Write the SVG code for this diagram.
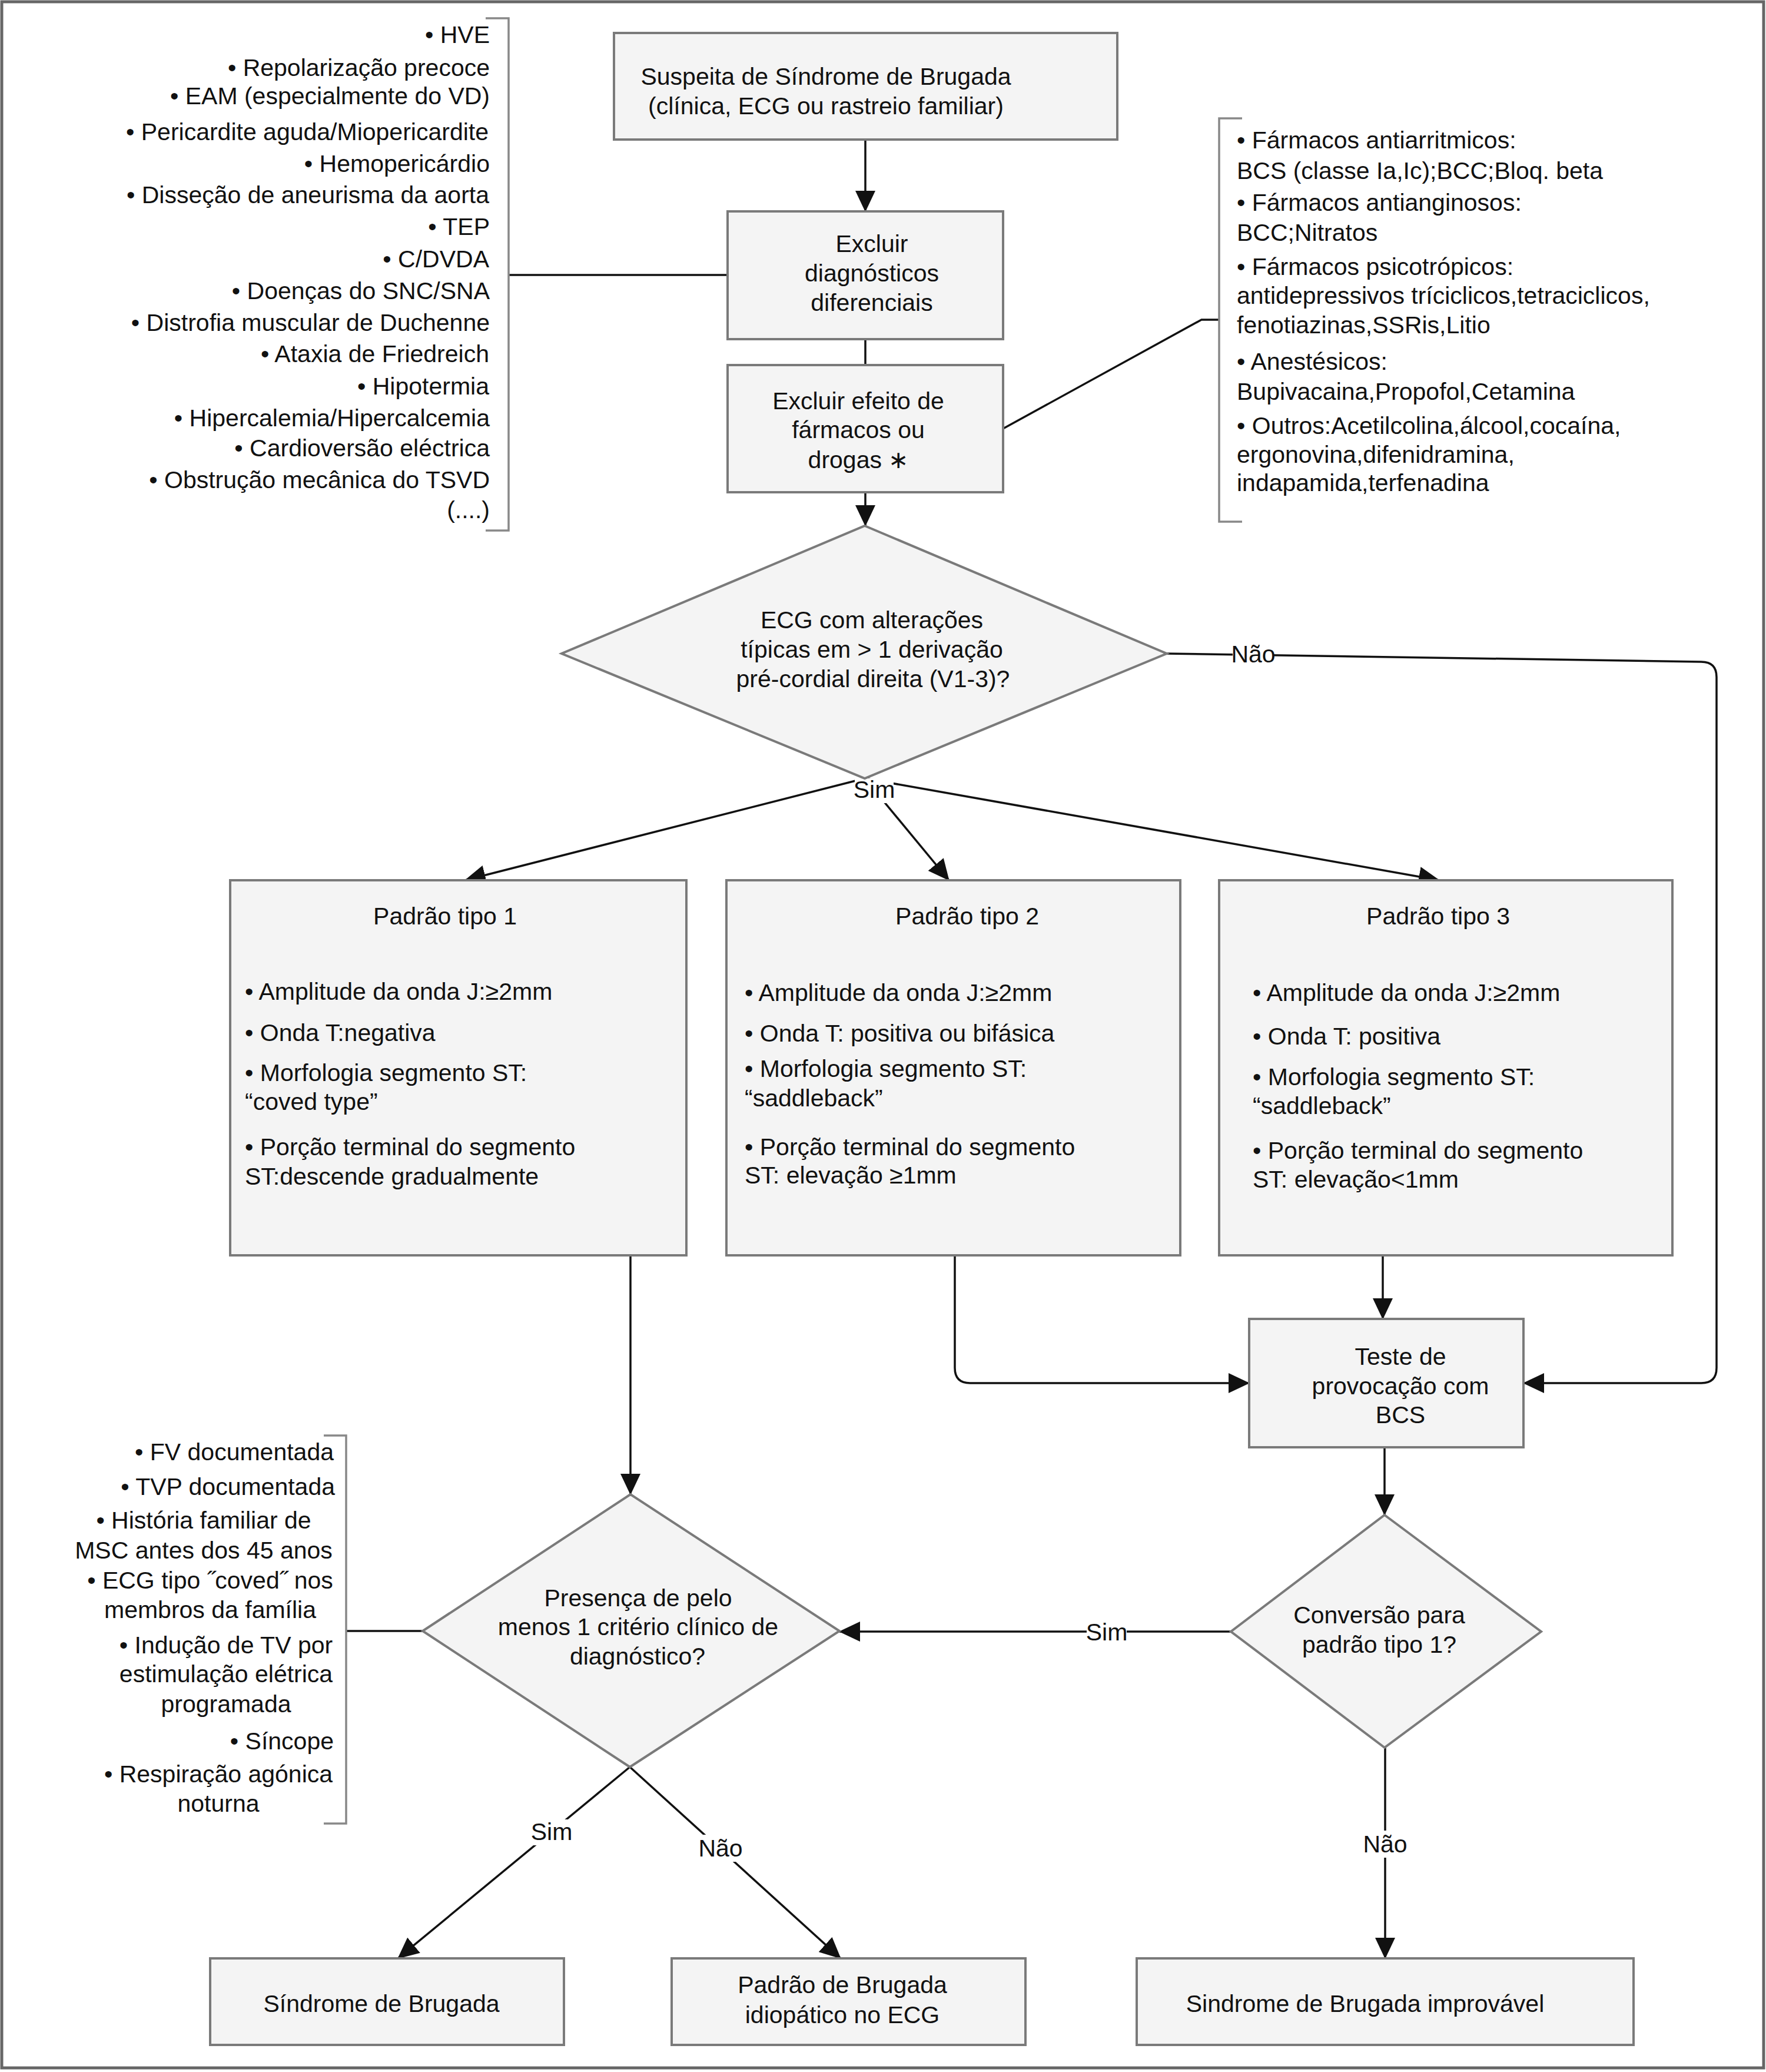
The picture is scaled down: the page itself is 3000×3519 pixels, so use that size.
<svg xmlns="http://www.w3.org/2000/svg" width="3000" height="3519" viewBox="0 0 3000 3519">
<defs>
<style>
.box{fill:#f4f4f4;stroke:#7a7a7a;stroke-width:4}
.conn{fill:none;stroke:#111;stroke-width:3.5}
.br{fill:none;stroke:#888;stroke-width:3.5}
text{font-family:"Liberation Sans",Arial,sans-serif;font-size:41px;fill:#111}
.m{text-anchor:middle}
.e{text-anchor:end}
.bg{fill:#fff}
</style>
<marker id="arr" viewBox="0 0 36 34" refX="35" refY="17" markerWidth="36" markerHeight="34" markerUnits="userSpaceOnUse" orient="auto">
<path d="M0,0 L36,17 L0,34 z" fill="#111"/>
</marker>
</defs>
<rect x="0" y="0" width="3000" height="3519" fill="#fff"/>
<rect x="3" y="3" width="2993" height="3509" fill="none" stroke="#666" stroke-width="5"/>

<g id="connectors">
<line class="conn" x1="1470" y1="237" x2="1470" y2="359" marker-end="url(#arr)"/>
<line class="conn" x1="1470" y1="576" x2="1470" y2="620"/>
<line class="conn" x1="1470" y1="836" x2="1470" y2="893" marker-end="url(#arr)"/>
<line class="conn" x1="864" y1="467" x2="1236" y2="467"/>
<polyline class="conn" points="1704,728 2041,543 2071,543"/>
<line class="conn" x1="1469" y1="1322" x2="790" y2="1495" marker-end="url(#arr)"/>
<line class="conn" x1="1469" y1="1322" x2="1612" y2="1495" marker-end="url(#arr)"/>
<line class="conn" x1="1469" y1="1322" x2="2445" y2="1495" marker-end="url(#arr)"/>
<path class="conn" d="M1982,1110 L2890,1124 Q2916,1124 2916,1150 L2916,2323 Q2916,2349 2890,2349 L2588,2349" marker-end="url(#arr)"/>
<path class="conn" d="M1622,2132 L1622,2323 Q1622,2349 1648,2349 L2122,2349" marker-end="url(#arr)"/>
<line class="conn" x1="2349" y1="2132" x2="2349" y2="2240" marker-end="url(#arr)"/>
<line class="conn" x1="1071" y1="2132" x2="1071" y2="2538" marker-end="url(#arr)"/>
<line class="conn" x1="2352" y1="2458" x2="2352" y2="2573" marker-end="url(#arr)"/>
<line class="conn" x1="2091" y1="2771" x2="1426" y2="2771" marker-end="url(#arr)"/>
<line class="conn" x1="2353" y1="2968" x2="2353" y2="3326" marker-end="url(#arr)"/>
<line class="conn" x1="1070" y1="3001" x2="676" y2="3326" marker-end="url(#arr)"/>
<line class="conn" x1="1070" y1="3001" x2="1428" y2="3326" marker-end="url(#arr)"/>
<line class="conn" x1="588" y1="2770" x2="718" y2="2770"/>
<rect class="bg" x="2094" y="1090" width="70" height="45"/>
<text class="m" x="2129" y="1125">Não</text>
<rect class="bg" x="1452" y="1322" width="66" height="42"/>
<text class="m" x="1485" y="1355">Sim</text>
<rect class="bg" x="1846" y="2750" width="68" height="44"/>
<text class="m" x="1880" y="2786">Sim</text>
<rect class="bg" x="903" y="3090" width="68" height="44"/>
<text class="m" x="937" y="3125">Sim</text>
<rect class="bg" x="1189" y="3116" width="70" height="46"/>
<text class="m" x="1224" y="3153">Não</text>
<rect class="bg" x="2318" y="3109" width="70" height="46"/>
<text class="m" x="2353" y="3146">Não</text>
</g>

<g id="diff-list">
<path class="br" d="M825,31 H864 V901 H825"/>
<text class="e" x="832" y="73">• HVE</text>
<text class="e" x="832" y="129">• Repolarização precoce</text>
<text class="e" x="832" y="177">• EAM (especialmente do VD)</text>
<text class="e" x="830" y="238">• Pericardite aguda/Miopericardite</text>
<text class="e" x="832" y="292">• Hemopericárdio</text>
<text class="e" x="831" y="345">• Disseção de aneurisma da aorta</text>
<text class="e" x="832" y="399">• TEP</text>
<text class="e" x="831" y="454">• C/DVDA</text>
<text class="e" x="832" y="508">• Doenças do SNC/SNA</text>
<text class="e" x="832" y="562">• Distrofia muscular de Duchenne</text>
<text class="e" x="831" y="615">• Ataxia de Friedreich</text>
<text class="e" x="831" y="670">• Hipotermia</text>
<text class="e" x="832" y="724">• Hipercalemia/Hipercalcemia</text>
<text class="e" x="832" y="775">• Cardioversão eléctrica</text>
<text class="e" x="832" y="829">• Obstrução mecânica do TSVD</text>
<text class="e" x="832" y="880">(....)</text>
</g>

<g id="drug-list">
<path class="br" d="M2110,201 H2071 V886 H2110"/>
<text x="2101" y="252">• Fármacos antiarritmicos:</text>
<text x="2101" y="304">BCS (classe Ia,Ic);BCC;Bloq. beta</text>
<text x="2101" y="358">• Fármacos antianginosos:</text>
<text x="2101" y="409">BCC;Nitratos</text>
<text x="2101" y="467">• Fármacos psicotrópicos:</text>
<text x="2101" y="516">antidepressivos tríciclicos,tetraciclicos,</text>
<text x="2101" y="566">fenotiazinas,SSRis,Litio</text>
<text x="2101" y="628">• Anestésicos:</text>
<text x="2101" y="679">Bupivacaina,Propofol,Cetamina</text>
<text x="2101" y="737">• Outros:Acetilcolina,álcool,cocaína,</text>
<text x="2101" y="786">ergonovina,difenidramina,</text>
<text x="2101" y="834">indapamida,terfenadina</text>
</g>

<g id="suspeita">
<rect class="box" x="1043" y="56" width="855" height="181"/>
<text class="m" x="1403" y="144">Suspeita de Síndrome de Brugada</text>
<text class="m" x="1403" y="194">(clínica, ECG ou rastreio familiar)</text>
</g>

<g id="excluir-diag">
<rect class="box" x="1236" y="359" width="468" height="217"/>
<text class="m" x="1481" y="428">Excluir</text>
<text class="m" x="1481" y="478">diagnósticos</text>
<text class="m" x="1481" y="528">diferenciais</text>
</g>

<g id="excluir-farm">
<rect class="box" x="1236" y="620" width="468" height="216"/>
<text class="m" x="1458" y="695">Excluir efeito de</text>
<text class="m" x="1458" y="744">fármacos ou</text>
<text class="m" x="1458" y="795">drogas ∗</text>
</g>

<g id="ecg-decision">
<polygon class="box" points="1469,893 1982,1110 1469,1322 954,1110"/>
<text class="m" x="1481" y="1067">ECG com alterações</text>
<text class="m" x="1481" y="1117">típicas em &gt; 1 derivação</text>
<text class="m" x="1483" y="1167">pré-cordial direita (V1-3)?</text>
</g>

<g id="padrao1">
<rect class="box" x="391" y="1495" width="775" height="637"/>
<text class="m" x="756" y="1570">Padrão tipo 1</text>
<text x="416" y="1698">• Amplitude da onda J:≥2mm</text>
<text x="416" y="1768">• Onda T:negativa</text>
<text x="416" y="1836">• Morfologia segmento ST:</text>
<text x="416" y="1885">“coved type”</text>
<text x="416" y="1962">• Porção terminal do segmento</text>
<text x="416" y="2012">ST:descende gradualmente</text>
</g>

<g id="padrao2">
<rect class="box" x="1234" y="1495" width="771" height="637"/>
<text class="m" x="1643" y="1570">Padrão tipo 2</text>
<text x="1265" y="1700">• Amplitude da onda J:≥2mm</text>
<text x="1265" y="1769">• Onda T: positiva ou bifásica</text>
<text x="1265" y="1829">• Morfologia segmento ST:</text>
<text x="1265" y="1879">“saddleback”</text>
<text x="1265" y="1962">• Porção terminal do segmento</text>
<text x="1265" y="2010">ST: elevação ≥1mm</text>
</g>

<g id="padrao3">
<rect class="box" x="2071" y="1495" width="770" height="637"/>
<text class="m" x="2443" y="1570">Padrão tipo 3</text>
<text x="2128" y="1700">• Amplitude da onda J:≥2mm</text>
<text x="2128" y="1774">• Onda T: positiva</text>
<text x="2128" y="1843">• Morfologia segmento ST:</text>
<text x="2128" y="1892">“saddleback”</text>
<text x="2128" y="1968">• Porção terminal do segmento</text>
<text x="2128" y="2017">ST: elevação&lt;1mm</text>
</g>

<g id="teste">
<rect class="box" x="2122" y="2240" width="466" height="218"/>
<text class="m" x="2379" y="2318">Teste de</text>
<text class="m" x="2379" y="2368">provocação com</text>
<text class="m" x="2379" y="2417">BCS</text>
</g>

<g id="conversao">
<polygon class="box" points="2352,2573 2618,2771 2352,2968 2091,2771"/>
<text class="m" x="2343" y="2757">Conversão para</text>
<text class="m" x="2343" y="2807">padrão tipo 1?</text>
</g>

<g id="criterio">
<polygon class="box" points="1071,2538 1426,2770 1070,3001 718,2770"/>
<text class="m" x="1084" y="2728">Presença de pelo</text>
<text class="m" x="1084" y="2777">menos 1 critério clínico de</text>
<text class="m" x="1083" y="2827">diagnóstico?</text>
</g>

<g id="criterios-list">
<path class="br" d="M550,2438 H588 V3097 H550"/>
<text class="e" x="567" y="2480">• FV documentada</text>
<text class="e" x="569" y="2539">• TVP documentada</text>
<text class="m" x="346" y="2596">• História familiar de</text>
<text class="m" x="346" y="2647">MSC antes dos 45 anos</text>
<text class="m" x="357" y="2698">• ECG tipo ˝coved˝ nos</text>
<text class="m" x="357" y="2748">membros da família</text>
<text class="m" x="384" y="2808">• Indução de TV por</text>
<text class="m" x="384" y="2857">estimulação elétrica</text>
<text class="m" x="384" y="2908">programada</text>
<text class="e" x="567" y="2971">• Síncope</text>
<text class="m" x="371" y="3027">• Respiração agónica</text>
<text class="m" x="371" y="3077">noturna</text>
</g>

<g id="sindrome">
<rect class="box" x="357" y="3326" width="601" height="147"/>
<text class="m" x="648" y="3417">Síndrome de Brugada</text>
</g>

<g id="idiopatico">
<rect class="box" x="1141" y="3326" width="601" height="147"/>
<text class="m" x="1431" y="3385">Padrão de Brugada</text>
<text class="m" x="1431" y="3436">idiopático no ECG</text>
</g>

<g id="improvavel">
<rect class="box" x="1931" y="3326" width="844" height="147"/>
<text class="m" x="2319" y="3417">Sindrome de Brugada improvável</text>
</g>
</svg>
